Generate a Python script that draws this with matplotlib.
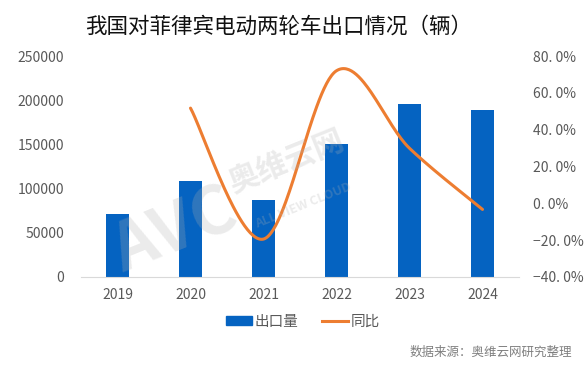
import matplotlib
matplotlib.use("Agg")
import matplotlib.pyplot as plt
import numpy as np

plt.rcParams['font.family'] = ['Noto Sans CJK SC', 'DejaVu Sans']

years = ['2019', '2020', '2021', '2022', '2023', '2024']
exports = [71500, 108500, 87500, 150500, 195500, 189000]
yoy_years = ['2020', '2021', '2022', '2023', '2024']
yoy = [51.7, -19.4, 72.0, 29.9, -3.3]

title = '我国对菲律宾电动两轮车出口情况（辆）'
source = '数据来源：奥维云网研究整理'

BLUE = '#0563C1'
ORANGE = '#ED7D31'
GRAY = '#595959'

fig = plt.figure(figsize=(5.84, 3.67), dpi=100)
ax = fig.add_axes([81/584, 1-277/367, 438/584, 221/367])
ax2 = ax.twinx()

x = np.arange(len(years))
ax.bar(x, exports, width=0.32, color=BLUE, zorder=2)
ax.set_xlim(-0.5, len(years)-0.5)
ax.set_ylim(0, 250000)
ax.set_yticks(np.arange(0, 250001, 50000))
ax.set_xticks(x)
ax.set_xticklabels(years)

# smoothed line (Excel-style Bezier through data points)
xi = np.array([years.index(y) for y in yoy_years], dtype=float)
yi = np.array(yoy, dtype=float)
pts = np.column_stack([xi, yi])
curve = []
n = len(pts)
t = np.linspace(0, 1, 60)
for i in range(n-1):
    p0 = pts[i-1] if i > 0 else pts[i]
    p1 = pts[i]
    p2 = pts[i+1]
    p3 = pts[i+2] if i+2 < n else pts[i+1]
    c1 = p1 + (p2 - p0)/6
    c2 = p2 - (p3 - p1)/6
    seg = ((1-t)**3)[:, None]*p1 + (3*(1-t)**2*t)[:, None]*c1 + (3*(1-t)*t**2)[:, None]*c2 + (t**3)[:, None]*p2
    curve.append(seg)
curve = np.vstack(curve)
ax2.plot(curve[:, 0], curve[:, 1], color=ORANGE, lw=2.2, zorder=3, solid_capstyle='round')
ax2.set_ylim(-40, 80)
ax2.set_yticks(np.arange(-40, 81, 20))
ax2.set_yticklabels([f'{v:.1f}%'.replace('.', '. ') if v >= 0 else f'−{abs(v):.1f}%'.replace('.', '. ') for v in np.arange(-40, 81, 20)])

for a in (ax, ax2):
    for s in a.spines.values():
        s.set_visible(False)
    a.tick_params(length=0, colors=GRAY, labelsize=10)
ax.spines['bottom'].set_visible(True)
ax.spines['bottom'].set_color('#D9D9D9')
ax.tick_params(axis='y', pad=12)
ax.tick_params(axis='x', pad=8)
ax2.tick_params(axis='y', pad=10)

# watermark
fig.text(0.30, 0.37, 'AVC', fontsize=48, fontweight='bold', color='#B0B0B0', alpha=0.25,
         rotation=22, ha='center', va='center', style='italic')
fig.text(0.49, 0.56, '奥维云网', fontsize=22, fontweight='bold', color='#B0B0B0', alpha=0.25,
         rotation=22, ha='center', va='center')
fig.text(0.52, 0.44, 'ALL VIEW CLOUD', fontsize=9, fontweight='bold', color='#B0B0B0', alpha=0.25,
         rotation=22, ha='center', va='center')

fig.text(279/584, 1-27/367, title, fontsize=15.5, color='#111111', ha='center', va='center')

from matplotlib.patches import Patch
from matplotlib.lines import Line2D
handles = [Patch(color=BLUE, label='出口量'), Line2D([0], [0], color=ORANGE, lw=2.2, label='同比')]
fig.legend(handles=handles, loc='center', bbox_to_anchor=(303/584, 1-322/367), ncol=2,
           frameon=False, fontsize=10.5, labelcolor=GRAY, handlelength=1.8, handleheight=0.6,
           handletextpad=0.2, columnspacing=1.6)

fig.text(572/584, 1-352/367, source, fontsize=9, color='#7f7f7f', ha='right', va='center')

fig.savefig('out.png', dpi=100)
